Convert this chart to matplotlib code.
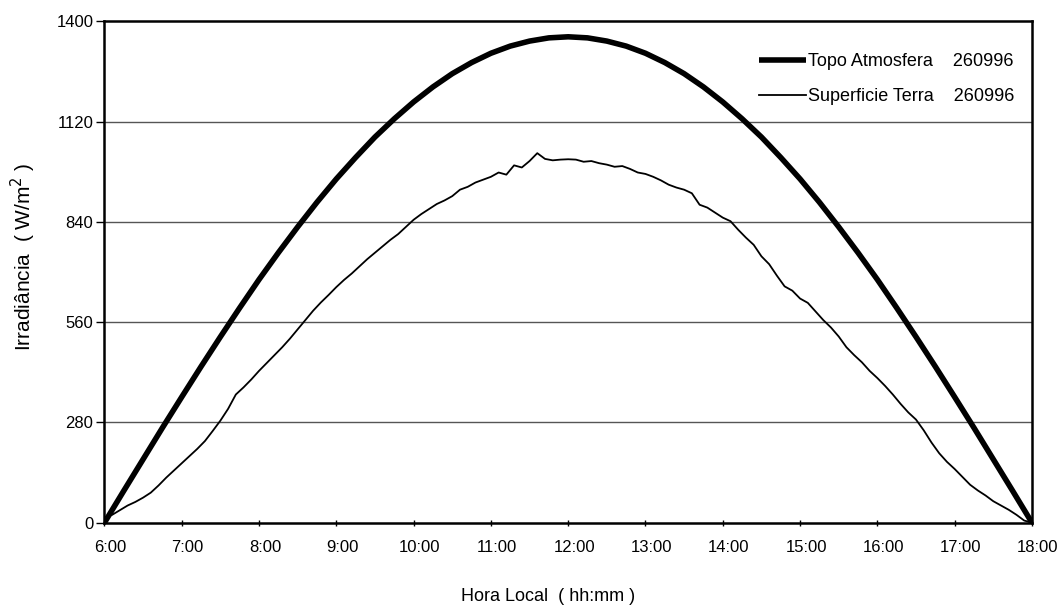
import numpy as np
import matplotlib
matplotlib.use("Agg")
import matplotlib.pyplot as plt
import matplotlib.transforms as mtransforms

# ---------------- data ----------------
hour_ticks = [6, 7, 8, 9, 10, 11, 12, 13, 14, 15, 16, 17, 18]
hour_labels = ["6:00", "7:00", "8:00", "9:00", "10:00", "11:00", "12:00",
               "13:00", "14:00", "15:00", "16:00", "17:00", "18:00"]
y_ticks = [0, 280, 560, 840, 1120, 1400]

# Topo Atmosfera (every 15 min, 6:00 -> 18:00)
topo_times = [6 + 0.25 * i for i in range(49)]
topo_values = [0, 89, 177, 265, 351, 436, 519, 600, 679, 754, 826, 895, 960,
               1020, 1077, 1128, 1175, 1217, 1254, 1285, 1311, 1331, 1345, 1354,
               1357,
               1354, 1345, 1331, 1311, 1285, 1254, 1217, 1175, 1128, 1077, 1020,
               960, 895, 826, 754, 679, 600, 519, 436, 351, 265, 177, 89, 0]

# Superficie Terra (every 6 min, 6:00 -> 18:00)
surf_times = [round(6 + 0.1 * i, 1) for i in range(121)]
surf_values = [15, 22, 35, 48, 58, 70, 84, 104, 126, 146,
               166, 186, 206, 228, 256, 285, 318, 358, 378, 400,
               424, 446, 468, 490, 514, 540, 566, 592, 615, 636,
               658, 678, 696, 716, 736, 754, 772, 790, 806, 826,
               846, 862, 876, 890, 900, 912, 930, 938, 950, 958,
               966, 978, 972, 998, 992, 1010, 1032, 1016, 1012, 1014,
               1015, 1014, 1008, 1010, 1004, 1000, 994, 996, 988, 978,
               974, 966, 956, 944, 936, 930, 920, 888, 880, 866,
               852, 842, 818, 796, 776, 744, 722, 690, 660, 648,
               626, 614, 590, 566, 545, 520, 490, 468, 448, 424,
               404, 382, 358, 332, 308, 288, 258, 224, 194, 170,
               150, 128, 106, 90, 76, 60, 48, 36, 22, 6,
               0]

# ---------------- fonts ----------------
plt.rcParams['font.family'] = ['Liberation Sans', 'DejaVu Sans']
s_tick, s_leg, s_xl, s_yl = 12, 13, 13, 15

# ---------------- figure ----------------
fig = plt.figure(figsize=(10.57, 6.13), dpi=100)
ax = fig.add_axes([0.0988, 0.1473, 0.8775, 0.8178])

for v in y_ticks[1:-1]:
    ax.axhline(v, color="#555555", lw=1.0, zorder=1)

ax.plot(topo_times, topo_values, color="black", lw=4.0, zorder=3,
        solid_capstyle="butt", label="Topo Atmosfera    260996")
ax.plot(surf_times, surf_values, color="black", lw=1.3, zorder=3,
        label="Superficie Terra    260996")

ax.set_xlim(6, 18)
ax.set_ylim(0, 1400)
ax.set_xticks(hour_ticks)
ax.set_xticklabels(hour_labels)
ax.set_yticks(y_ticks)
ax.set_yticklabels([str(v) for v in y_ticks])

for sp in ax.spines.values():
    sp.set_linewidth(1.8)
    sp.set_color("black")

ax.tick_params(axis="x", direction="inout", length=5, width=1, pad=10,
               labelsize=s_tick)
ax.tick_params(axis="y", direction="out", length=6, width=1, pad=2,
               labelsize=s_tick)

offset = mtransforms.ScaledTranslation(6 / 100, 0, fig.dpi_scale_trans)
for lab in ax.get_xticklabels():
    lab.set_transform(lab.get_transform() + offset)

ax.set_xlabel("Hora Local  ( hh:mm )", fontsize=s_xl)
ax.xaxis.set_label_coords(0.478, -0.130)
ax.set_ylabel("Irradiância  ( W/m$^2$ )", fontsize=s_yl)
ax.yaxis.set_label_coords(-0.072, 0.53)

leg = ax.legend(loc="upper left", bbox_to_anchor=(0.706, 0.937),
                frameon=False, fontsize=s_leg, handlelength=2.6,
                handletextpad=0.1, labelspacing=1.0, borderpad=0,
                borderaxespad=0)

fig.savefig("out.png", dpi=100)
